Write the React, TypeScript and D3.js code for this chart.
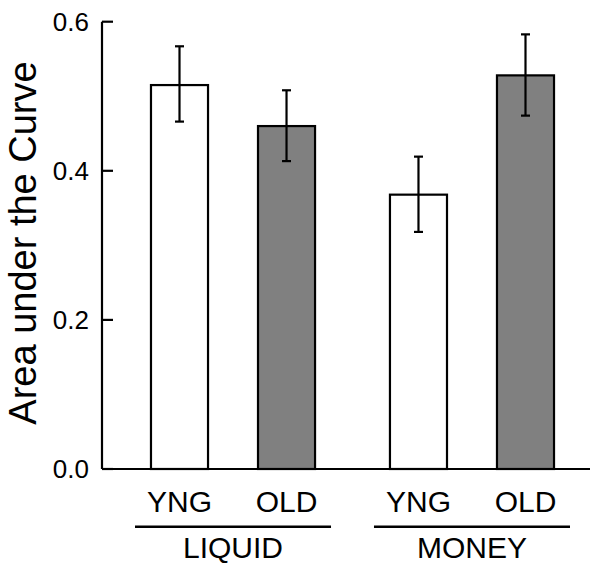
import React from 'react'
import * as d3 from 'd3'

const groups = ['LIQUID', 'MONEY']
const ages = ['YNG', 'OLD']
const means = [[0.515, 0.46], [0.368, 0.528]]
const errLow = [[0.466, 0.413], [0.318, 0.474]]
const errHigh = [[0.567, 0.508], [0.419, 0.583]]
const yTicks = [0, 0.2, 0.4, 0.6]

const App = () => {
  const width = 600
  const height = 569
  const axisX = 102
  const axisRight = 590

  const y = d3.scaleLinear().domain([0, 0.6]).range([469, 21.7])

  const x0 = d3.scaleBand().domain(groups).range([133, 572]).paddingInner(0.163).paddingOuter(0)
  const x1 = d3.scaleBand().domain(ages).range([0, x0.bandwidth()]).paddingInner(0.467).paddingOuter(0.168)

  const font = 'Liberation Sans, Arial, sans-serif'

  return (
    <svg width={width} height={height} style={{ position: 'absolute', left: 0, top: 0 }}>
      {groups.map((g, gi) =>
        ages.map((a, ai) => {
          const bx = (x0(g) as number) + (x1(a) as number)
          const cx = bx + x1.bandwidth() / 2
          return (
            <g key={g + a}>
              <rect x={bx} y={y(means[gi][ai])} width={x1.bandwidth()} height={y(0) - y(means[gi][ai])}
                fill={ai === 0 ? '#ffffff' : '#808080'} stroke="#000" strokeWidth={2.2} />
              <line x1={cx} x2={cx} y1={y(errLow[gi][ai])} y2={y(errHigh[gi][ai])} stroke="#000" strokeWidth={2.2} />
              <line x1={cx - 4.5} x2={cx + 4.5} y1={y(errLow[gi][ai])} y2={y(errLow[gi][ai])} stroke="#000" strokeWidth={2.2} />
              <line x1={cx - 4.5} x2={cx + 4.5} y1={y(errHigh[gi][ai])} y2={y(errHigh[gi][ai])} stroke="#000" strokeWidth={2.2} />
              <text x={cx} y={511.7} textAnchor="middle" fontFamily={font} fontSize={30}>{a}</text>
            </g>
          )
        })
      )}

      {/* axes */}
      <line x1={axisX} x2={axisX} y1={y(0.6)} y2={y(0)} stroke="#000" strokeWidth={2.2} />
      <line x1={axisX} x2={axisRight} y1={y(0)} y2={y(0)} stroke="#000" strokeWidth={2.2} />
      {yTicks.map(t => (
        <g key={t}>
          <line x1={axisX} x2={axisX + 11} y1={y(t)} y2={y(t)} stroke="#000" strokeWidth={2.2} />
          <text x={89} y={y(t)} dy="0.35em" textAnchor="end" fontFamily={font} fontSize={26}>{t.toFixed(1)}</text>
        </g>
      ))}

      {/* group labels */}
      {groups.map(g => {
        const gx = x0(g) as number
        return (
          <g key={g}>
            <line x1={gx + 2} x2={gx + x0.bandwidth() - 2} y1={526.7} y2={526.7} stroke="#000" strokeWidth={2.6} />
            <text x={gx + x0.bandwidth() / 2} y={558.3} textAnchor="middle" fontFamily={font} fontSize={30}>{g}</text>
          </g>
        )
      })}

      <text transform="translate(36,243) rotate(-90)" textAnchor="middle" fontFamily={font} fontSize={38}>Area under the Curve</text>
    </svg>
  )
}

export default App
